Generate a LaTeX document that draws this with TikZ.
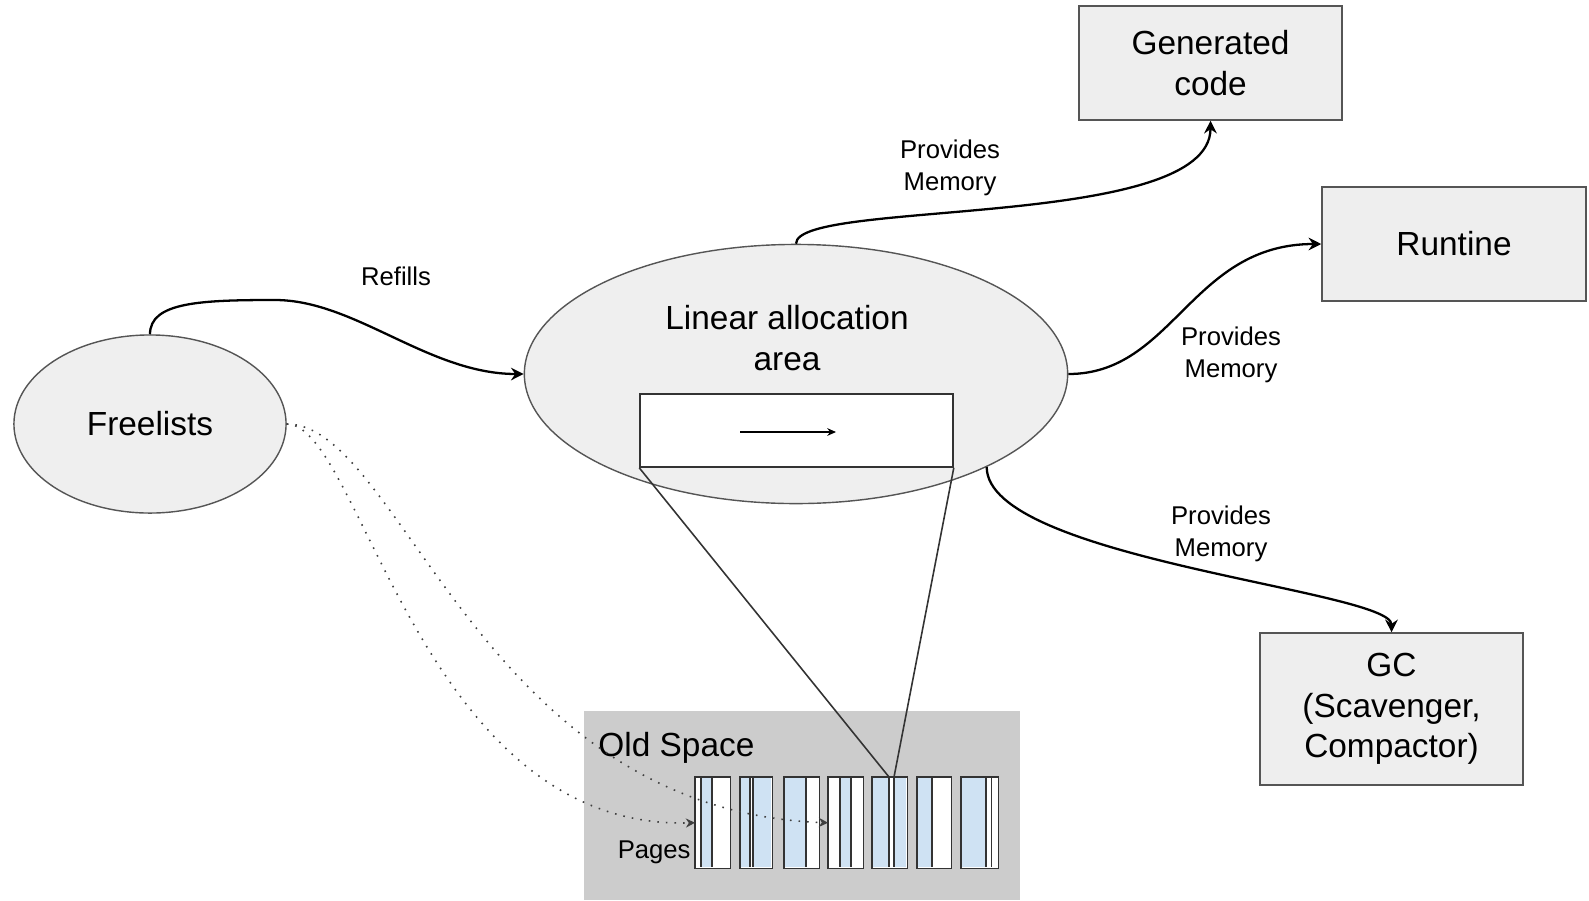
\documentclass[tikz,border=0pt]{standalone}
\usepackage{fontspec}
\setmainfont{Liberation Sans}
\usetikzlibrary{shapes.geometric,arrows.meta,positioning}
\definecolor{bubblegray}{HTML}{EFEFEF}
\definecolor{boxgray}{HTML}{EEEEEE}
\definecolor{spacegray}{HTML}{CCCCCC}
\definecolor{pageblue}{HTML}{CFE2F3}
\definecolor{edgegray}{HTML}{555555}
\begin{document}
\begin{tikzpicture}[x=0.01cm, y=-0.01cm,
  big/.style={font=\fontsize{9.5}{11.5}\selectfont, align=center},
  small/.style={font=\fontsize{7.3}{8.9}\selectfont, align=center},
  bubble/.style={ellipse, draw=edgegray, line width=0.4pt, fill=bubblegray, inner sep=0pt},
  target/.style={rectangle, draw=edgegray, line width=0.4pt, fill=boxgray, minimum width=2.63cm, minimum height=1.14cm, big},
  feed/.style={-{Stealth[length=3.6pt,width=3.6pt,inset=1.2pt]}, line width=0.65pt},
  scan/.style={-{Stealth[length=2.6pt,width=2.6pt]}, dotted, line width=0.45pt, black!75},
  page/.style={rectangle, fill=white, minimum height=0.9cm, inner sep=0pt, anchor=north west},
  pageline/.style={draw=black!80, line width=0.45pt}]
\useasboundingbox (0,0) rectangle (1589,900);
% allocation areas
\node (free) [bubble, minimum width=2.72cm, minimum height=1.78cm, big] at (150,424) {Freelists};
\node (laa) [bubble, minimum width=5.43cm, minimum height=2.59cm] at (796,374) {};
\node (lin) [big] at (787,338) {Linear allocation\\area};
\node (buf) [draw=black!80, fill=white, line width=0.4pt, minimum width=3.13cm, minimum height=0.73cm, inner sep=0pt] at (796.5,430.5) {};
\coordinate (bump) at (740,432);
\coordinate (top) at (836,432);
\draw[-{Stealth[length=2.5pt,width=2.2pt]}, line width=0.4pt] (bump) -- (top);
% users of the memory
\node (gen) [target] at (1210.5,63) {Generated\\code};
\node (rt) [target, minimum width=2.64cm] at (1454,244) {Runtine};
\node (gc) [target, minimum height=1.52cm] at (1391.5,709) {GC\\(Scavenger,\\Compactor)};
% old space with its pages
\node (old) [fill=spacegray, minimum width=4.36cm, minimum height=1.89cm, inner sep=0pt] at (802,805.5) {};
\node (oldlbl) [big, anchor=west] at (586,748) {Old Space};
\foreach \n/\x/\w in {1/695/34, 2/740/31, 3/784/34, 4/828/34, 5/872/34, 6/917/33, 7/961/36}
  \node (p\n) [page, minimum width=\w*0.01cm] at (\x,777) {};
\foreach \n/\a/\b in {1/7/17, 2/0/10, 2/13/31, 3/0/22, 4/12/23, 5/0/17, 5/22/34, 6/0/15, 7/0/24.5}
  \fill[pageblue] (p\n.north west) ++(\a,0) rectangle ++(\b-\a,90);
\foreach \n/\a in {1/17, 2/10, 2/13, 3/22, 4/12, 4/23, 5/17, 5/22, 6/15, 7/30.5}
  \draw[pageline] (p\n.north west) ++(\a,0) -- ++(0,90);
\foreach \n/\a in {1/6, 7/25}
  \draw[pageline, line width=0.8pt] (p\n.north west) ++(\a,0) -- ++(0,90);
\foreach \n in {1,...,7}
  \draw[pageline] (p\n.north west) rectangle (p\n.south east);
\node (pglbl) [small, anchor=east] at (703,852) {Pages};
% zoom onto the page
\path (p5.north west) ++(17,0) coordinate (slotl) ++(5,0) coordinate (slotr);
\draw[pageline] (buf.south west) -- (slotl);
\draw[pageline] (buf.south east) -- (slotr);
% connectors
\coordinate (rf) at (275,300);
\draw[feed] (free.north) .. controls +(0,-32) and +(-75,0) .. (rf) .. controls +(80,0) and +(-95,0) .. (laa.west);
\node (refills) [small] at (396,276) {Refills};
\draw[feed] (laa.north) .. controls +(0,-45) and +(0,110) .. (gen.south);
\node (pm1) [small] at (950,168) {Provides\\Memory};
\draw[feed] (laa.east) .. controls +(105,0) and +(-130,0) .. (rt.west);
\node (pm2) [small] at (1231,355) {Provides\\Memory};
\draw[feed] (laa.-26) .. controls +(0,92) and +(0,-42) .. (gc.north);
\node (pm3) [small] at (1221,534) {Provides\\Memory};
\draw[scan] (free.east) .. controls +(74,0) and +(-275,8) .. (p1.west);
\draw[scan] (free.east) .. controls +(114,0) and +(-348,-12) .. (p4.west);
\end{tikzpicture}
\end{document}
